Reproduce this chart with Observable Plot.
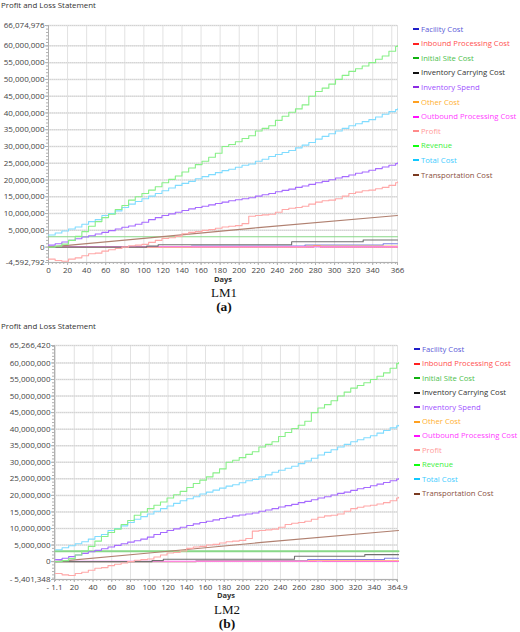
<!DOCTYPE html>
<html><head><meta charset="utf-8">
<script src="https://cdn.jsdelivr.net/npm/d3@7"></script>
<script src="https://cdn.jsdelivr.net/npm/@observablehq/plot@0.6"></script>
<style>
body{margin:0;background:#fff;}
#root{position:relative;width:520px;height:632px;font-family:"Open Sans",sans-serif;overflow:hidden;}
.title{position:absolute;left:1px;font-size:7.9px;color:#333;line-height:10px;white-space:nowrap;}
.lrow{position:absolute;font-size:7.7px;line-height:12px;white-space:nowrap;}
.mk{position:absolute;width:6px;height:2px;}
.cap{position:absolute;font-family:"Liberation Serif",serif;transform:translate(-50%,-50%);white-space:nowrap;color:#111;}
.plotwrap{position:absolute;left:0;}
</style>
</head><body><div id="root"></div>
<script>
// ---------- DATA (values in millions) ----------
const seriesNames = ["Facility Cost","Inbound Processing Cost","Initial Site Cost","Inventory Carrying Cost","Inventory Spend","Other Cost","Outbound Processing Cost","Profit","Revenue","Total Cost","Transportation Cost"];
const markerColors = ["#1e1ec8","#ff2020","#10b010","#111111","#8a2be2","#ffa020","#ff10ff","#ff8a8a","#10ff10","#10c8ff","#7a3a20"];
const textColors   = ["#5a5ad8","#ff5050","#4cc04c","#333333","#a050ff","#ffb030","#ff40ff","#ff9a9a","#40f040","#40ccff","#8a5040"];
const lineColors   = ["#8080e0","#ff6060","#88d888","#707070","#a66bff","#ffcc70","#ff70ff","#ffa8a8","#88f088","#80dcff","#b08070"];

const weekDays = [0,7,14,21,28,35,42,49,56,63,70,77,84,91,98,105,112,119,126,133,140,147,154,161,168,175,182,189,196,203,210,217,224,231,238,245,252,259,266,273,280,287,294,301,308,315,322,329,336,343,350,357,364,366];
const revenue = [0,0.3,0.9,2.0,3.2,4.6,6.2,7.6,8.8,9.8,11.2,12.4,14.0,15.0,16.0,17.0,18.0,19.2,20.2,21.2,22.4,23.6,24.6,25.6,26.8,28.0,30.0,30.6,31.4,32.4,33.2,34.6,35.4,36.2,37.8,39.0,40.2,41.2,42.4,45.0,46.4,47.4,48.6,50.0,51.2,52.4,53.2,54.0,55.0,56.0,57.0,58.4,59.8,60.1];
const totalCost = [3.6,4.2,4.8,5.4,6.0,6.8,7.6,8.2,9.4,10.0,10.8,11.8,12.8,13.6,14.4,15.2,16.0,16.8,17.6,18.4,19.0,19.6,20.4,21.0,21.6,22.2,22.8,23.2,23.8,24.4,24.8,25.6,26.2,27.0,27.6,28.2,28.8,29.6,30.4,31.2,32.2,33.0,33.8,34.6,35.4,36.2,36.8,37.4,38.0,38.8,39.6,40.4,41.0,41.2];
const inventorySpend = [0.6,1.0,1.5,2.0,2.5,3.0,3.4,3.9,4.4,4.9,5.4,5.9,6.3,6.8,7.4,8.2,8.8,9.4,9.9,10.4,10.9,11.4,11.8,12.2,12.6,13.0,13.4,13.8,14.1,14.4,14.7,15.2,15.6,16.0,16.5,16.9,17.3,17.8,18.2,18.7,19.2,19.6,20.1,20.6,21.0,21.5,22.0,22.4,22.9,23.4,23.9,24.4,24.9,25.1];
const profit = [-3.6,-4.0,-4.2,-3.6,-3.2,-2.6,-2.0,-1.8,-1.2,-0.8,-0.4,0.0,0.4,0.6,0.8,1.4,2.0,2.6,2.8,3.2,4.0,4.4,4.6,5.0,5.2,5.6,6.0,6.2,6.4,7.0,9.2,9.4,9.6,9.8,10.4,11.2,11.6,11.8,12.2,12.8,13.4,13.8,14.0,14.4,15.2,16.0,16.4,16.8,17.0,17.4,17.8,18.4,19.2,19.4];

const transportDays = [0,100,220,366];
const transportCost = [0,2.6,5.8,9.4];
const siteDays = [0,366];
const siteCost = [3.1,3.1];
const carryDays = [0,103,115,255,330,366];
const carryCost = [0,0.3,0.7,1.6,2.1,2.1];
const facilityDays = [0,150,269,351,366];
const facilityCost = [0,0.3,0.6,1.0,1.0];
const otherDays = [0,150,270,366];
const otherCost = [0,0.15,0.3,0.3];
const inboundDays = [0,278,285,366];
const inboundCost = [0.05,0.35,0.05,0.05];
const outboundDays = [0,366];
const outboundCost = [0.1,0.1];

// axis ticks
const yTicksA = [-4592792,0,5e6,10e6,15e6,20e6,25e6,30e6,35e6,40e6,45e6,50e6,55e6,60e6,66074976];
const yLabelsA = ["-4,592,792","0","5,000,000","10,000,000","15,000,000","20,000,000","25,000,000","30,000,000","35,000,000","40,000,000","45,000,000","50,000,000","55,000,000","60,000,000","66,074,976"];
const xTicksA = [0,20,40,60,80,100,120,140,160,180,200,220,240,260,280,300,320,340,366];
const xLabelsA = ["0","20","40","60","80","100","120","140","160","180","200","220","240","260","280","300","320","340","366"];
const yTicksB = [-5401348,0,5e6,10e6,15e6,20e6,25e6,30e6,35e6,40e6,45e6,50e6,55e6,60e6,65266420];
const yLabelsB = ["- 5,401,348","0","5,000,000","10,000,000","15,000,000","20,000,000","25,000,000","30,000,000","35,000,000","40,000,000","45,000,000","50,000,000","55,000,000","60,000,000","65,266,420"];
const xTicksB = [-1.1,20,40,60,80,100,120,140,160,180,200,220,240,260,280,300,320,340,364.9];
const xLabelsB = ["- 1.1","20","40","60","80","100","120","140","160","180","200","220","240","260","280","300","320","340","364.9"];
const xGrid = [0,20,40,60,80,100,120,140,160,180,200,220,240,260,280,300,320,340,360];

// ---------- build ----------
const seriesData = [
  {i:0, days:facilityDays, vals:facilityCost, curve:"step-after"},
  {i:1, days:inboundDays, vals:inboundCost, curve:"step-after"},
  {i:5, days:otherDays, vals:otherCost, curve:"step-after"},
  {i:6, days:outboundDays, vals:outboundCost, curve:"step-after"},
  {i:3, days:carryDays, vals:carryCost, curve:"step-after"},
  {i:2, days:siteDays, vals:siteCost, curve:"linear"},
  {i:10, days:transportDays, vals:transportCost, curve:"linear"},
  {i:7, days:weekDays, vals:profit, curve:"step-after"},
  {i:4, days:weekDays, vals:inventorySpend, curve:"step-after"},
  {i:9, days:weekDays, vals:totalCost, curve:"step-after"},
  {i:8, days:weekDays, vals:revenue, curve:"step-after"}
];

const root = document.getElementById("root");

function addDiv(cls, style, text){
  const d = document.createElement("div");
  d.className = cls; Object.assign(d.style, style);
  if (text != null) d.textContent = text;
  root.appendChild(d); return d;
}

function panel(cfg){
  addDiv("title", {top: cfg.titleTop+"px"}, "Profit and Loss Statement");
  const yMap = new Map(cfg.yTicks.map((t,k)=>[t,cfg.yLabels[k]]));
  const xMap = new Map(cfg.xTicks.map((t,k)=>[t,cfg.xLabels[k]]));
  const yMinor = d3.range(Math.ceil(cfg.yDomain[0]/1e6), Math.floor(cfg.yDomain[1]/1e6)+1).map(v=>v*1e6);
  const xMinor = d3.range(Math.ceil(cfg.xDomain[0]/4)*4, cfg.xDomain[1], 4);
  const marks = [
    Plot.gridX(xGrid.concat([cfg.xDomain[1]]), {stroke:"#e2e2e2", strokeOpacity:1, strokeWidth:1}),
    Plot.gridY(cfg.yTicks, {stroke:"#e2e2e2", strokeOpacity:1, strokeWidth:1.5}),
    Plot.gridY(cfg.yTicks, {stroke:"#c8c8c8", strokeOpacity:1, strokeWidth:0.6, strokeDasharray:"1,1"}),
    Plot.ruleX([cfg.xDomain[0]], {stroke:"#b0b0b0"}),
    Plot.ruleY([cfg.yDomain[0]], {stroke:"#b0b0b0"}),
    Plot.axisY(yMinor, {tickSize:2, tickFormat:()=>"", label:null, stroke:"#b0b0b0"}),
    Plot.axisX(xMinor, {tickSize:2, tickFormat:()=>"", label:null, stroke:"#b0b0b0"}),
    Plot.axisY(cfg.yTicks, {tickSize:3, tickPadding:1, tickFormat:d=>yMap.get(d), label:null, stroke:"#b0b0b0", fill:"#444"}),
    Plot.axisX(cfg.xTicks, {tickSize:3, tickPadding:1.5, tickFormat:d=>xMap.get(d), label:null, stroke:"#b0b0b0", fill:"#444"}),
    Plot.text(["Days"], {frameAnchor:"bottom", text:d=>d, dy:cfg.daysDy, fontWeight:"bold", fontSize:7.5, fill:"#333"})
  ];
  for (const s of seriesData){
    const rows = s.days.map((d,k)=>({day:d, value:s.vals[k]*1e6}));
    marks.push(Plot.line(rows, {x:"day", y:"value", stroke:lineColors[s.i], strokeWidth:(s.i===2?cfg.siteWidth:1.1), curve:s.curve}));
  }
  const svg = Plot.plot({
    width:520, height:cfg.height,
    marginLeft:cfg.marginLeft, marginRight:cfg.marginRight, marginTop:cfg.marginTop, marginBottom:cfg.marginBottom,
    x:{domain:cfg.xDomain, axis:null},
    y:{domain:cfg.yDomain, axis:null},
    style:{fontFamily:"Open Sans, sans-serif", fontSize:"8px", background:"transparent", overflow:"visible"},
    marks
  });
  const w = document.createElement("div");
  w.className = "plotwrap"; w.style.top = cfg.svgTop+"px";
  w.appendChild(svg); root.appendChild(w);
  // legend
  seriesNames.forEach((name,k)=>{
    const cy = cfg.legTop + k*cfg.legStep;
    addDiv("mk", {left:(cfg.legX-3)+"px", top:(cy-1)+"px", background:markerColors[k]});
    addDiv("lrow", {left:(cfg.legX+5)+"px", top:(cy-6.5)+"px", color:textColors[k]}, name);
  });
  addDiv("cap", {left:cfg.capX+"px", top:cfg.capY1+"px", fontSize:"13px"}, cfg.cap1);
  addDiv("cap", {left:cfg.capX+"px", top:cfg.capY2+"px", fontSize:"13.5px", fontWeight:"bold"}, cfg.cap2);
}

panel({titleTop:0, svgTop:14, height:274, marginTop:11, marginBottom:26, marginLeft:48, marginRight:123,
  xDomain:[0,366], yDomain:[-4592792,66074976], yTicks:yTicksA, yLabels:yLabelsA, xTicks:xTicksA, xLabels:xLabelsA,
  daysDy:19.2, siteWidth:1.1, legX:416, legTop:29, legStep:14.6, capX:224, capY1:293, capY2:307, cap1:"LM1", cap2:"(a)"});
panel({titleTop:320.5, svgTop:334, height:270, marginTop:11, marginBottom:25, marginLeft:54, marginRight:123,
  xDomain:[-1.1,364.9], yDomain:[-5401348,65266420], yTicks:yTicksB, yLabels:yLabelsB, xTicks:xTicksB, xLabels:xLabelsB,
  daysDy:18.8, siteWidth:2, legX:417, legTop:349.3, legStep:14.44, capX:227, capY1:610, capY2:624, cap1:"LM2", cap2:"(b)"});
</script></body></html>
